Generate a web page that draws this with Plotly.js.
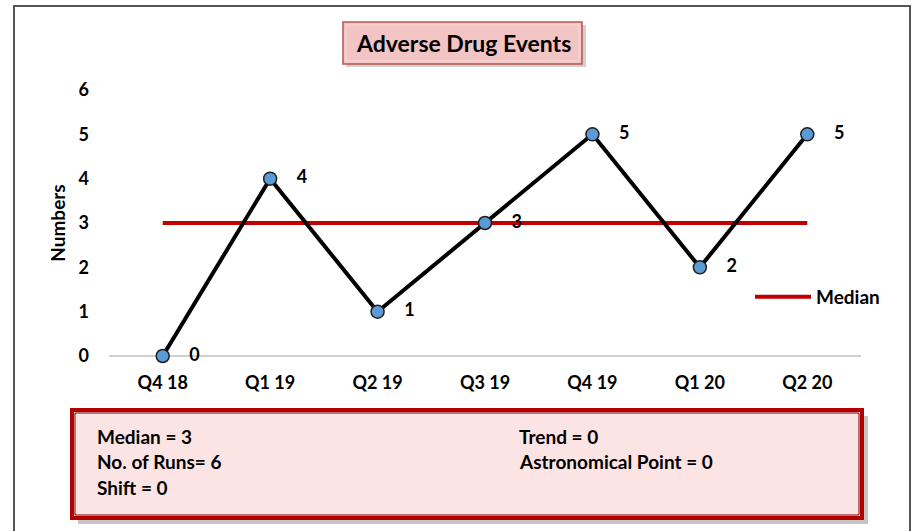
<!DOCTYPE html>
<html>
<head>
<meta charset="utf-8">
<script src="https://cdn.plot.ly/plotly-3.0.1.min.js"></script>
<style>html,body{margin:0;padding:0;background:#fff;}#chart{width:914px;height:531px;}</style>
</head>
<body>
<div id="chart"></div>
<script>
const categories = ["Q4 18", "Q1 19", "Q2 19", "Q3 19", "Q4 19", "Q1 20", "Q2 20"];
const events = [0, 4, 1, 3, 5, 2, 5];
const medianValues = [3, 3, 3, 3, 3, 3, 3];
const yTicks = [0, 1, 2, 3, 4, 5, 6];
const titleText = "Adverse Drug Events";
const statsLeft = ["Median = 3", "No. of Runs= 6", "Shift = 0"];
const statsRight = ["Trend = 0", "Astronomical Point = 0"];

const FONT = "Lato, 'Open Sans', 'Liberation Sans', sans-serif";
const W = 914, H = 531;
const L = 109, R = 53, T = 90, B = 175;
const pw = W - L - R, ph = H - T - B;
const px = x => (x - L) / pw;
const py = y => (H - B - y) / ph;
const PAD = "\u00a0\u00a0\u00a0\u00a0";

const traces = [
  {
    x: categories, y: medianValues, type: "scatter", mode: "lines", name: "Median",
    line: {color: "#c00000", width: 4}, showlegend: true, hoverinfo: "skip"
  },
  {
    x: categories, y: events, type: "scatter", mode: "lines+markers+text", name: "Events",
    line: {color: "#000000", width: 4},
    marker: {size: 13, color: "#5b9bd5", line: {color: "#1f1f1f", width: 1.5}},
    text: events.map(v => PAD + String(v)), textposition: "middle right",
    textfont: {family: FONT, size: 18, color: "#000", weight: "bold"},
    showlegend: false, cliponaxis: false
  }
];

const shapes = [
  {type: "rect", xref: "paper", yref: "paper", x0: px(14), x1: px(910), y0: py(560), y1: py(6),
   line: {color: "#555555", width: 2}, fillcolor: "rgba(0,0,0,0)", layer: "below"},
  {type: "rect", xref: "paper", yref: "paper", x0: px(346), x1: px(586), y0: py(67), y1: py(25),
   line: {width: 0}, fillcolor: "rgba(120,120,120,0.35)", layer: "below"},
  {type: "rect", xref: "paper", yref: "paper", x0: px(343), x1: px(582), y0: py(64), y1: py(22),
   line: {color: "#b85450", width: 1.5}, fillcolor: "#f2c4c4", layer: "below"},
  {type: "rect", xref: "paper", yref: "paper", x0: px(346), x1: px(579), y0: py(61), y1: py(25),
   line: {color: "#f7dada", width: 1}, fillcolor: "rgba(0,0,0,0)", layer: "below"},
  {type: "rect", xref: "paper", yref: "paper", x0: px(78), x1: px(868), y0: py(524), y1: py(416),
   line: {width: 0}, fillcolor: "rgba(90,90,90,0.35)", layer: "below"},
  {type: "rect", xref: "paper", yref: "paper", x0: px(72), x1: px(862), y0: py(518), y1: py(410),
   line: {color: "#b00000", width: 4}, fillcolor: "#fde4e4", layer: "below"},
  {type: "rect", xref: "paper", yref: "paper", x0: px(75), x1: px(859), y0: py(515), y1: py(413),
   line: {color: "#7a0000", width: 1}, fillcolor: "rgba(0,0,0,0)", layer: "below"}
];

const annotations = [
  {text: "<b>" + titleText + "</b>", xref: "paper", yref: "paper", x: px(463), y: py(43),
   xanchor: "center", yanchor: "middle", showarrow: false,
   font: {family: FONT, size: 23, color: "#000"}}
];
statsLeft.forEach((t, i) => annotations.push({
  text: "<b>" + t + "</b>", xref: "paper", yref: "paper", x: px(95), y: py(436 + i * 25.5),
  xanchor: "left", yanchor: "middle", showarrow: false, font: {family: FONT, size: 19, color: "#000"}
}));
statsRight.forEach((t, i) => annotations.push({
  text: "<b>" + t + "</b>", xref: "paper", yref: "paper", x: px(517), y: py(436 + i * 25.5),
  xanchor: "left", yanchor: "middle", showarrow: false, font: {family: FONT, size: 19, color: "#000"}
}));

const layout = {
  width: W, height: H,
  margin: {l: L, r: R, t: T, b: B, pad: 0},
  paper_bgcolor: "#ffffff", plot_bgcolor: "rgba(0,0,0,0)",
  font: {family: FONT, size: 18, color: "#000"},
  xaxis: {
    type: "category", categoryorder: "array", categoryarray: categories,
    range: [-0.5, categories.length - 0.5],
    showgrid: false, zeroline: false, showline: false, ticks: "",
    tickfont: {family: FONT, size: 18, color: "#000", weight: "bold"}, ticklabelstandoff: 14
  },
  yaxis: {
    range: [0, 6], tickvals: yTicks, ticktext: yTicks.map(String),
    showgrid: false, zeroline: true, zerolinecolor: "#d0d0d0", zerolinewidth: 1.5,
    showline: false, ticks: "",
    tickfont: {family: FONT, size: 18, color: "#000", weight: "bold"}, ticklabelstandoff: 19,
    title: {text: "<b>Numbers</b>", font: {family: FONT, size: 19, color: "#000"}, standoff: 7}
  },
  showlegend: true,
  legend: {x: px(750), y: py(297), xanchor: "left", yanchor: "middle",
           bgcolor: "rgba(0,0,0,0)", itemwidth: 56,
           font: {family: FONT, size: 19, color: "#000", weight: "bold"}},
  shapes: shapes,
  annotations: annotations
};

Plotly.newPlot("chart", traces, layout, {displayModeBar: false, staticPlot: true});
</script>
</body>
</html>
